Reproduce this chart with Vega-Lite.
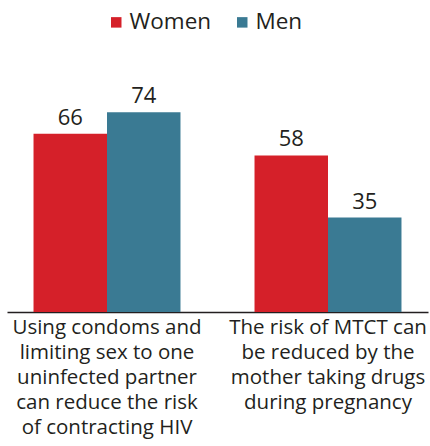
{
  "$schema": "https://vega.github.io/schema/vega-lite/v6.json",
  "width": 421,
  "height": 216,
  "autosize": "none",
  "padding": {"left": 7, "top": 96, "right": 2, "bottom": 134},
  "config": {"view": {"stroke": null}, "font": "Open Sans"},
  "data": {"values": [
    {"q": "Using condoms and|limiting sex to one|uninfected partner|can reduce the risk|of contracting HIV", "sex": "Women", "v": 66},
    {"q": "Using condoms and|limiting sex to one|uninfected partner|can reduce the risk|of contracting HIV", "sex": "Men", "v": 74},
    {"q": "The risk of MTCT can|be reduced by the|mother taking drugs|during pregnancy", "sex": "Women", "v": 58},
    {"q": "The risk of MTCT can|be reduced by the|mother taking drugs|during pregnancy", "sex": "Men", "v": 35}
  ]},
  "encoding": {
    "x": {
      "field": "q", "type": "nominal", "sort": null,
      "scale": {"paddingInner": 0.335, "paddingOuter": 0.12},
      "axis": {
        "title": null, "labelAngle": 0, "ticks": false, "labelLimit": 0,
        "labelExpr": "split(datum.label, '|')",
        "labelFontSize": 20.5, "labelLineHeight": 25, "labelPadding": 5,
        "labelColor": "#231f20", "domainColor": "#231f20", "domainWidth": 1.5
      }
    },
    "xOffset": {"field": "sex", "type": "nominal", "sort": ["Women", "Men"], "scale": {"paddingInner": 0, "paddingOuter": 0}},
    "y": {"field": "v", "type": "quantitative", "scale": {"domain": [0, 80]}, "axis": null}
  },
  "layer": [
    {
      "mark": {"type": "bar"},
      "encoding": {
        "color": {
          "field": "sex", "type": "nominal",
          "scale": {"domain": ["Women", "Men"], "range": ["#d52029", "#3a7a93"]},
          "legend": {
            "title": null, "orient": "none", "direction": "horizontal",
            "legendX": 98, "legendY": -85,
            "symbolType": "square", "symbolSize": 110, "symbolStrokeWidth": 0,
            "labelFontSize": 22.5, "labelColor": "#231f20", "columnPadding": 19, "labelOffset": 2
          }
        }
      }
    },
    {
      "mark": {"type": "text", "baseline": "bottom", "dy": -4, "fontSize": 22, "color": "#231f20"},
      "encoding": {"text": {"field": "v", "type": "quantitative"}}
    }
  ]
}
